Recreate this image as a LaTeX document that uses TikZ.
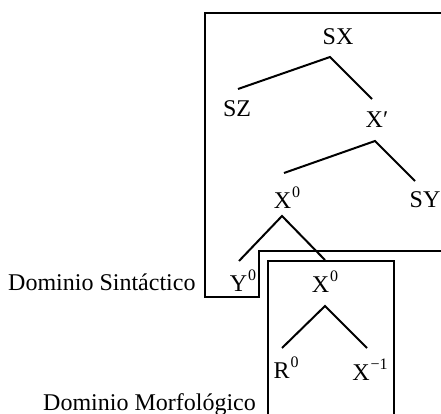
\documentclass[tikz,border=0pt]{standalone}
\usepackage{fontspec}
\setmainfont{Liberation Serif}
\tikzset{
  every picture/.style={x=1pt, y=-1pt, font=\fontsize{24}{28}\selectfont},
  cat/.style={inner sep=0pt, anchor=base},
  domlabel/.style={inner sep=0pt, anchor=base west},
  branch/.style={line width=2pt},
  frameline/.style={line width=1.3pt},
}
\newcommand{\cs}[2]{#1\kern1pt\raisebox{11pt}{\fontsize{16}{16}\selectfont #2}}
\begin{document}
\begin{tikzpicture}
  \useasboundingbox (0,0) rectangle (441,414);

  % ---- domain frames
  \draw[frameline] (441,13) -- (205,13) -- (205,297) -- (259,297) -- (259,251) -- (441,251);
  \draw[frameline] (268,414) -- (268,261) -- (394,261) -- (394,414);

  % ---- categories
  \node[cat] (sx)  at (338,45)  {SX};
  \node[cat] (sz)  at (237,117) {SZ};
  \node[cat] (xb)  at (377,128) {X′};
  \node[cat] (x0)  at (287,208) {\cs{X}{0}};
  \node[cat] (sy)  at (425,207) {SY};
  \node[cat] (y0)  at (243,291) {\cs{Y}{0}};
  \node[cat] (x0b) at (325,292) {\cs{X}{0}};
  \node[cat] (r0)  at (286,378) {\cs{R}{0}};
  \node[cat] (xm)  at (370,380) {\cs{X}{−1}};

  \node[domlabel] (sint)  at (8,290)  {Dominio Sintáctico};
  \node[domlabel] (morf)  at (43,410) {Dominio Morfológico};

  % ---- branches
  \draw[branch] ([shift={(1,-28)}]sz.base) -- ([shift={(-8,12)}]sx.base) -- ([shift={(-5,-29)}]xb.base);
  \draw[branch] ([shift={(-3,-35)}]x0.base) -- ([shift={(-2,13)}]xb.base) -- ([shift={(-10,-26)}]sy.base);
  \draw[branch] ([shift={(-4,-30)}]y0.base) -- ([shift={(-5,8)}]x0.base) -- ([shift={(0,-32)}]x0b.base);
  \draw[branch] ([shift={(-4,-30)}]r0.base) -- ([shift={(0,14)}]x0b.base) -- ([shift={(-3,-32)}]xm.base);
\end{tikzpicture}
\end{document}
